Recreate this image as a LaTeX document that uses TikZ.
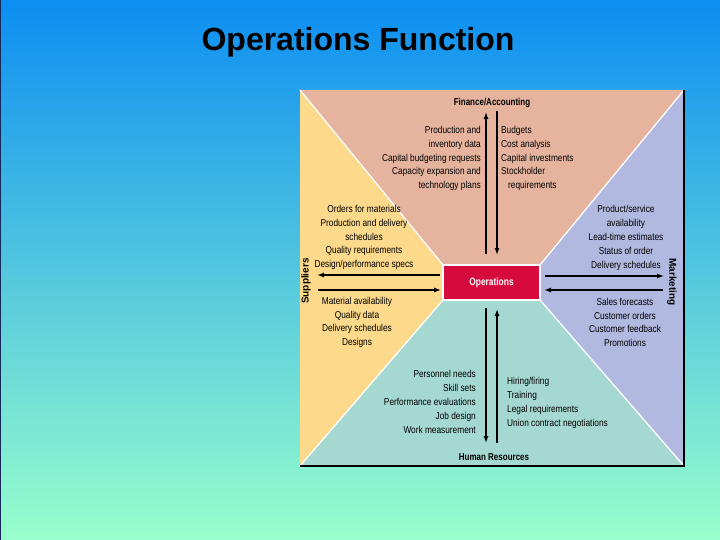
\documentclass[tikz,border=0pt]{standalone}
\usepackage{fontspec}
\setmainfont{Liberation Sans}
\newfontfamily\condfont[FakeStretch=0.83]{Liberation Sans}
\newfontfamily\labfont[FakeStretch=0.8]{Liberation Sans}
\usetikzlibrary{arrows.meta}
\definecolor{bgtop}{RGB}{12,142,242}
\definecolor{bgbot}{RGB}{153,255,204}
\definecolor{finc}{RGB}{230,180,158}
\definecolor{supc}{RGB}{252,217,139}
\definecolor{mktc}{RGB}{177,185,224}
\definecolor{hrc}{RGB}{166,216,210}
\definecolor{opsc}{RGB}{214,10,60}
\tikzset{
  region/.style={draw=white, line width=1.3pt, line join=miter},
  body/.style={font=\condfont\fontsize{10}{13.8}\selectfont, inner sep=0pt, text=black},
  lab/.style={font=\labfont\bfseries\fontsize{10}{12}\selectfont, inner sep=0pt, text=black},
  sidelab/.style={font=\bfseries\fontsize{10}{12}\selectfont, inner sep=0pt, text=black},
  flow/.style={line width=1.3pt, -{Latex[length=7pt,width=5pt]}},
}
\begin{document}
\begin{tikzpicture}[x=1pt,y=-1pt]
\useasboundingbox (0,0) rectangle (720,540);
% background
\shade[top color=bgtop, bottom color=bgbot] (0,0) rectangle (720,540);
\draw[color={rgb,255:red,20;green,40;blue,90}, line width=1pt] (0,540) -- (0,0) -- (720,0);
% title
\node[font=\bfseries\fontsize{32}{36}\selectfont, text=black, inner sep=0pt] (title) at (358,42) {Operations Function};
% regions
\fill[finc] (300,90) -- (684,90) -- (540,265) -- (443,265) -- cycle;
\fill[supc] (300,90) -- (443,265) -- (443,300) -- (300,466) -- cycle;
\fill[mktc] (684,90) -- (540,265) -- (540,300) -- (684,466) -- cycle;
\fill[hrc] (300,466) -- (443,300) -- (540,300) -- (684,466) -- cycle;
\draw[region] (300,90) -- (443,265) (684,90) -- (540,265)
              (300,466) -- (443,300) (684,466) -- (540,300);
\draw[black, line width=1.4pt] (300,466) -- (684,466) -- (684,90);
% operations box
\node[draw=white, fill=opsc, line width=1.3pt, minimum width=97pt, minimum height=35pt,
      inner sep=0pt, font=\labfont\bfseries\fontsize{10.5}{12}\selectfont, text=white] (ops) at (491.5,282.5) {Operations};
% labels
\node[lab] (fin) at (492,103) {Finance/Accounting};
\node[lab] (hr) at (494,457) {Human Resources};
\node[sidelab, rotate=90] (sup) at (306,281) {Suppliers};
\node[sidelab, rotate=-90] (mkt) at (672,282) {Marketing};
% text blocks
\node[body, align=right, anchor=east] (finL) at (481,158.5) {Production and\\inventory data\\Capital budgeting requests\\Capacity expansion and\\technology plans};
\node[body, align=left, anchor=west] (finR) at (501,158.5) {Budgets\\Cost analysis\\Capital investments\\Stockholder\\\hspace{7pt}requirements};
\node[body, align=center] (supT) at (364,237.5) {Orders for materials\\Production and delivery\\schedules\\Quality requirements\\Design/performance specs};
\node[body, align=center] (supB) at (357,322.5) {Material availability\\Quality data\\Delivery schedules\\Designs};
\node[body, align=center] (mktT) at (626,238) {Product/service\\availability\\Lead-time estimates\\Status of order\\Delivery schedules};
\node[body, align=center] (mktB) at (625,322.5) {Sales forecasts\\Customer orders\\Customer feedback\\Promotions};
\node[body, align=right, anchor=east] (hrL) at (476,402) {Personnel needs\\Skill sets\\Performance evaluations\\Job design\\Work measurement};
\node[body, align=left, anchor=west] (hrR) at (507,403) {Hiring/firing\\Training\\Legal requirements\\Union contract negotiations};
% arrow end points
\coordinate (fa1) at (486,254);
\coordinate (fa2) at (486,112);
\coordinate (fb1) at (497,111);
\coordinate (fb2) at (497,255);
\coordinate (ha1) at (486,308);
\coordinate (ha2) at (486,443);
\coordinate (hb1) at (497,443);
\coordinate (hb2) at (497,309);
\coordinate (sa1) at (440,275);
\coordinate (sa2) at (317,275);
\coordinate (sb1) at (318,290);
\coordinate (sb2) at (441,290);
\coordinate (ma1) at (545,276);
\coordinate (ma2) at (664,276);
\coordinate (mb1) at (663,290);
\coordinate (mb2) at (544,290);
% arrows
\draw[flow] (fa1) -- (fa2);
\draw[flow] (fb1) -- (fb2);
\draw[flow] (ha1) -- (ha2);
\draw[flow] (hb1) -- (hb2);
\draw[flow] (sa1) -- (sa2);
\draw[flow] (sb1) -- (sb2);
\draw[flow] (ma1) -- (ma2);
\draw[flow] (mb1) -- (mb2);
\end{tikzpicture}
\end{document}
